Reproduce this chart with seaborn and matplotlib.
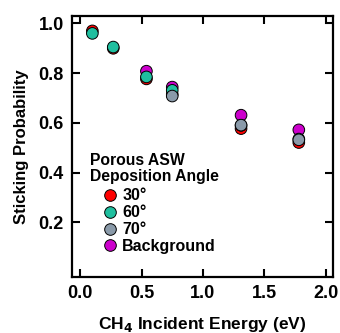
import matplotlib
matplotlib.use("Agg")
import matplotlib.pyplot as plt
import seaborn as sns
import pandas as pd

# incident energies (eV) and sticking probabilities per deposition angle
energy = [0.10, 0.27, 0.54, 0.75, 1.31, 1.78]
stick_30 = [0.970, 0.900, 0.777, 0.715, 0.577, 0.521]
stick_60 = [0.960, 0.905, 0.785, 0.731, 0.590, 0.535]
energy_70 = [0.75, 1.31, 1.78]
stick_70 = [0.708, 0.591, 0.532]
energy_bg = [0.54, 0.75, 1.31, 1.78]
stick_bg = [0.808, 0.744, 0.631, 0.572]

labels = ["30°", "60°", "70°", "Background"]
colors = ["#ff0000", "#1fbf9f", "#8a9aa9", "#cc00cc"]

# draw order: background at the back, 70 on top
rows = []
for x, y in zip(energy_bg, stick_bg):
    rows.append({"E": x, "S": y, "angle": "Background"})
for x, y in zip(energy, stick_30):
    rows.append({"E": x, "S": y, "angle": "30°"})
for x, y in zip(energy, stick_60):
    rows.append({"E": x, "S": y, "angle": "60°"})
for x, y in zip(energy_70, stick_70):
    rows.append({"E": x, "S": y, "angle": "70°"})
df = pd.DataFrame(rows)

sns.set_style("ticks", {"axes.edgecolor": "black", "xtick.color": "black",
                        "ytick.color": "black", "text.color": "black",
                        "axes.labelcolor": "black"})
plt.rcParams["font.family"] = ["Liberation Sans", "DejaVu Sans"]
plt.rcParams["font.weight"] = "bold"

fig = plt.figure(figsize=(3.4, 3.33), dpi=100)
ax = fig.add_axes([0.212, 0.168, 0.767, 0.784])

sns.scatterplot(data=df, x="E", y="S", hue="angle", hue_order=labels,
                palette=dict(zip(labels, colors)), s=70, edgecolor="black",
                linewidth=0.7, ax=ax, legend=True)

ax.set_xlim(-0.065, 2.057)
ax.set_ylim(-0.02, 1.03)
ax.set_xticks([0.0, 0.5, 1.0, 1.5, 2.0])
ax.set_yticks([0.2, 0.4, 0.6, 0.8, 1.0])
ax.set_xticklabels(["0.0", "0.5", "1.0", "1.5", "2.0"])
ax.set_yticklabels(["0.2", "0.4", "0.6", "0.8", "1.0"])
ax.tick_params(direction="in", length=6, width=1.5, top=True, right=True,
               labelsize=13, pad=6, colors="black")
for sp in ax.spines.values():
    sp.set_linewidth(1.6)
    sp.set_color("black")
    sp.set_visible(True)

ax.set_xlabel("CH$_\\mathbf{4}$ Incident Energy (eV)", fontsize=12.5,
              fontweight="bold", labelpad=9)
ax.set_ylabel("Sticking Probability", fontsize=12, fontweight="bold",
              labelpad=7)

ax.text(0.069, 0.475, "Porous ASW\nDeposition Angle", transform=ax.transAxes,
        ha="left", va="top", fontsize=11.3, fontweight="bold", linespacing=1.05)

handles, lbls = ax.get_legend_handles_labels()
ax.legend(handles, lbls, loc="upper left", bbox_to_anchor=(0.119, 0.34),
          frameon=False, borderaxespad=0, borderpad=0, handlelength=0.8,
          handletextpad=0.4, labelspacing=0.12,
          prop={"size": 11.5, "weight": "bold"})

fig.savefig("out.png", dpi=100)
